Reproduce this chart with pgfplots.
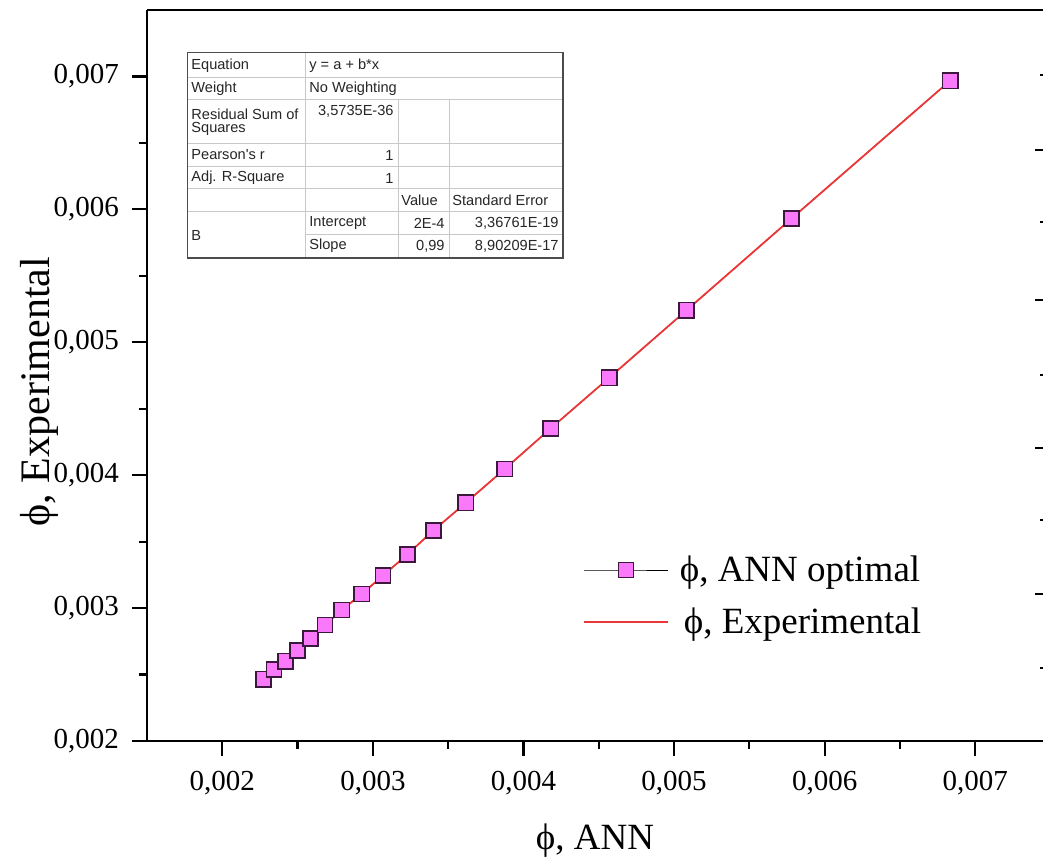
\documentclass[border=0pt]{standalone}
\usepackage{pgfplots}
\pgfplotsset{compat=1.18}
\usepackage{pgfplotstable}
\usepackage{fontspec}
\setmainfont{Liberation Serif}
\newfontfamily\tabfont{Liberation Sans}
\definecolor{mk}{RGB}{250,120,250}
\definecolor{mkedge}{RGB}{60,25,60}
\definecolor{fitred}{RGB}{235,55,55}
\definecolor{tabline}{RGB}{200,200,200}

\pgfplotstableread{
x y
0.002274 0.002465
0.002343 0.002538
0.002421 0.002601
0.002500 0.002681
0.002587 0.002771
0.002682 0.002873
0.002793 0.002986
0.002926 0.003106
0.003067 0.003244
0.003229 0.003404
0.003402 0.003584
0.003617 0.003792
0.003876 0.004047
0.004181 0.004352
0.004569 0.004733
0.005083 0.005241
0.005781 0.005932
0.006833 0.006968
}\anndata

\begin{document}
\begin{tikzpicture}
\begin{axis}[name=ax, scale only axis, width=448pt, height=365.5pt,
  xmin=0.0015, xmax=0.00745, ymin=0.002, ymax=0.0075,
  axis x line=box, axis y line=left,
  axis line style={line width=1.3pt, -},
  xtick pos=bottom, ytick pos=left,
  xtick={0.002,0.003,0.004,0.005,0.006,0.007},
  ytick={0.002,0.003,0.004,0.005,0.006,0.007},
  minor x tick num=1, minor y tick num=1,
  tick align=outside,
  major tick length=7.5pt, minor tick length=4pt,
  major tick style={line width=1.1pt, black},
  minor tick style={line width=1.1pt, black},
  scaled ticks=false,
  /pgf/number format/.cd, fixed, fixed zerofill, precision=3, use comma, assume math mode=true,
  /pgfplots/.cd,
  tick label style={font=\fontsize{14.5}{16}\selectfont},
  xticklabel style={yshift=-4pt},
  yticklabel style={xshift=-3pt},
  xlabel={ϕ, ANN}, ylabel={ϕ, Experimental},
  xlabel style={font=\fontsize{18.5}{20}\selectfont, yshift=-7.5pt},
  ylabel style={font=\fontsize{21}{22}\selectfont, yshift=-9pt, xshift=-8pt},
  legend image code/.code={\draw[#1, mark repeat=2, mark phase=2] plot coordinates {(0pt,0pt) (21pt,0pt) (42pt,0pt)};},
  legend style={at={(0.4866,0.259)}, anchor=north west, draw=none, fill=none,
    inner sep=0pt, outer sep=0pt, font=\fontsize{18.5}{20}\selectfont, row sep=7.5pt,
    /tikz/every odd column/.append style={column sep=3.5pt}},
  legend cell align=left,
  clip=false,
]
\addplot[black, line width=0.4pt, mark=square*, mark size=3.8pt,
  mark options={fill=mk, draw=mkedge, line width=0.8pt, solid}] table[x=x,y=y] {\anndata};
\addlegendentry{ϕ, ANN optimal}
\addplot[fitred, line width=0.9pt, no marks] table[x=x,y=y] {\anndata};
\addlegendentry{\hspace{2pt}ϕ, Experimental}
\end{axis}
% stray right-hand tick marks of the original (spine outside the picture)
\begin{axis}[at={(ax.south west)}, anchor=south west, scale only axis,
  width=448pt, height=365.5pt, xmin=0, xmax=1, ymin=-741, ymax=-10,
  axis x line=none, axis y line=right, y axis line style={draw=none},
  ytick={-150,-300,-448,-594}, minor ytick={-75,-222,-375,-520,-668},
  yticklabels={}, tick align=inside,
  major tick length=4pt, minor tick length=1.5pt,
  major tick style={line width=1pt, black},
  minor tick style={line width=1pt, black},
]
\end{axis}
\begin{scope}[shift={(ax.north west)}, x=0.5pt, y=-0.5pt, shift={(-147,-10)},
  every node/.style={font=\tabfont\fontsize{7.3}{8}\selectfont, inner sep=0pt, text=black!85}]
  \fill[white] (187.5,52.5) rectangle (563,258);
  \begin{scope}[tabline, line width=0.5pt]
    \foreach \yy in {78,100,143.3,166.7,189,212} {\draw (187.5,\yy) -- (563,\yy);}
    \draw (305.5,234.5) -- (563,234.5);
    \draw (305.5,52.5) -- (305.5,258);
    \draw (398.5,100) -- (398.5,258);
    \draw (449,100) -- (449,258);
  \end{scope}
  \draw[black!70, line width=0.9pt] (187.5,52.5) rectangle (563,258);
  \node[anchor=west] at (191,65.5) {Equation};
  \node[anchor=west] at (309,65.5) {y = a + b*x};
  \node[anchor=west] at (191,89) {Weight};
  \node[anchor=west] at (309,89) {No Weighting};
  \node[anchor=west] at (191,114) {Residual Sum of};
  \node[anchor=west] at (191,129) {Squares};
  \node[anchor=east] at (394,111) {3,5735E-36};
  \node[anchor=west] at (191,155) {Pearson's r};
  \node[anchor=east] at (394,155) {1};
  \node[anchor=west] at (191,178) {Adj. R-Square};
  \node[anchor=east] at (394,178) {1};
  \node[anchor=west] at (401,200.5) {Value};
  \node[anchor=west] at (452,200.5) {Standard Error};
  \node[anchor=west] at (191,235) {B};
  \node[anchor=west] at (309,223) {Intercept};
  \node[anchor=east] at (445,223) {2E-4};
  \node[anchor=east] at (559,223) {3,36761E-19};
  \node[anchor=west] at (309,246) {Slope};
  \node[anchor=east] at (445,246) {0,99};
  \node[anchor=east] at (559,246) {8,90209E-17};
  \pgfresetboundingbox
  \path[use as bounding box] (0,0) rectangle (1043,863);
\end{scope}
\end{tikzpicture}
\end{document}
